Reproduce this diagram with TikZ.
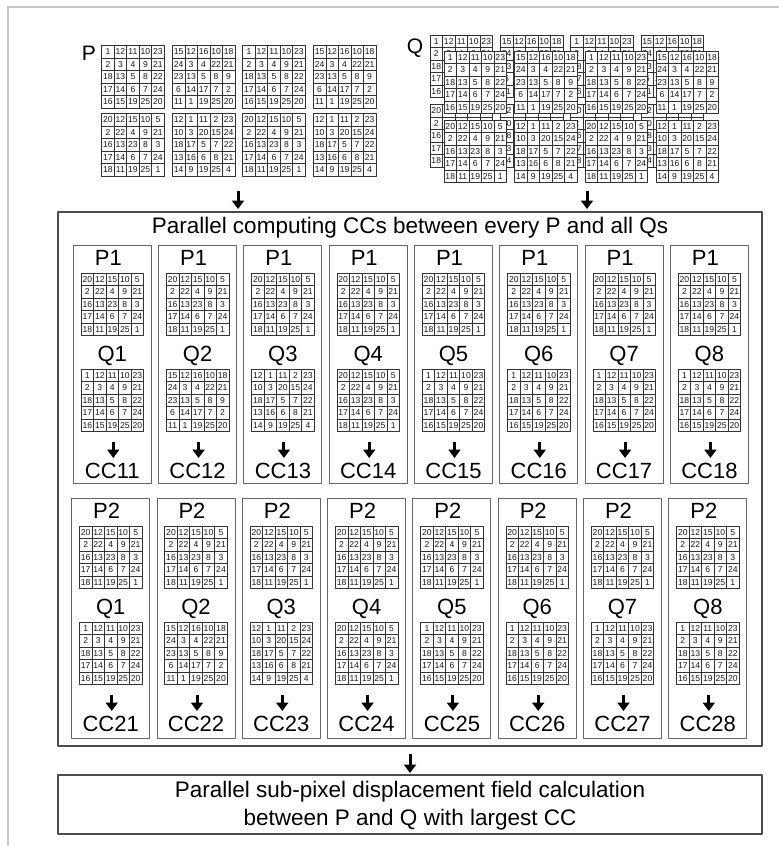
\documentclass[tikz,border=0pt]{standalone}
\usepackage{fontspec}
\setmainfont{Liberation Sans}
\usetikzlibrary{arrows.meta}

\def\matA{{20,12,15,10,5},{2,22,4,9,21},{16,13,23,8,3},{17,14,6,7,24},{18,11,19,25,1}}
\def\matB{{1,12,11,10,23},{2,3,4,9,21},{18,13,5,8,22},{17,14,6,7,24},{16,15,19,25,20}}
\def\matC{{15,12,16,10,18},{24,3,4,22,21},{23,13,5,8,9},{6,14,17,7,2},{11,1,19,25,20}}
\def\matD{{12,1,11,2,23},{10,3,20,15,24},{18,17,5,7,22},{13,16,6,8,21},{14,9,19,25,4}}

\newcommand{\numgrid}[4]{%
  \expandafter\let\expandafter\curmat\csname mat#4\endcsname
  \foreach \rowvals [count=\ri] in \curmat {%
    \foreach \v [count=\ci] in \rowvals {%
      \node[cell] (#1-\ri-\ci) at ({#2+(\ci-0.5)*12.5},{#3+(\ri-0.5)*12.5}) {\v};
    }
  }%
}

\begin{document}
\begin{tikzpicture}[x=1pt, y=-1pt, line join=round,
  cell/.style={draw=black!80, line width=0.6pt, fill=white, inner sep=0pt,
    minimum width=12.5pt, minimum height=12.5pt, text=black!90,
    font=\fontsize{8.6}{8.6}\selectfont},
  biglbl/.style={inner sep=0pt, font=\fontsize{21}{21}\selectfont},
  lbl/.style={inner sep=0pt, font=\fontsize{22}{22}\selectfont},
  txt/.style={inner sep=0pt, align=center, font=\fontsize{22.5}{28}\selectfont},
  colbox/.style={draw=black!60, line width=0.9pt},
  mainbox/.style={draw=black!70, line width=1.3pt},
  pageline/.style={draw=black!22, line width=2pt},
  arr/.style={line width=3pt, -{Triangle[width=12pt,length=8.5pt]}}]
\useasboundingbox (0,0) rectangle (779,846);
\draw[pageline] (7,7) -- (779,7);
\draw[pageline] (8,7) -- (8,846);

\node[biglbl] (Plbl) at (89,53) {P};
\foreach \gx/\qm [count=\j] in {101.7/B,172.3/C,242.7/B,313.3/C} {\numgrid{P-1-\j}{\gx}{45.5}{\qm}}
\foreach \gx/\qm [count=\j] in {101.7/A,172.3/D,242.7/A,313.3/D} {\numgrid{P-2-\j}{\gx}{113.5}{\qm}}

\node[biglbl] (Qlbl) at (415,48) {Q};
\foreach \gx/\qm [count=\j] in {430/B,500.3/C,570.6/B,640.9/C} {\numgrid{Qb-1-\j}{\gx}{35}{\qm}}
\foreach \gx/\qm [count=\j] in {430/A,500.3/D,570.6/A,640.9/D} {\numgrid{Qb-2-\j}{\gx}{104.5}{\qm}}
\foreach \gx/\qm [count=\j] in {444/B,514.6/C,585.2/B,655.8/C} {\numgrid{Qf-1-\j}{\gx}{51}{\qm}}
\foreach \gx/\qm [count=\j] in {444/A,514.6/D,585.2/A,655.8/D} {\numgrid{Qf-2-\j}{\gx}{120}{\qm}}

\coordinate (Ptop) at (238,191);
\coordinate (Pbot) at (238,209);
\coordinate (Qtop) at (587,191);
\coordinate (Qbot) at (587,209);
\draw[arr] (Ptop) -- (Pbot);
\draw[arr] (Qtop) -- (Qbot);

\draw[mainbox] (58,212) rectangle (762,746);
\node[txt] (title) at (410,228) {Parallel computing CCs between every P and all Qs};

\foreach \rw/\ty/\by/\xs in {1/245/483/73.3,2/498/738/71.7} {
  \foreach \nq/\qm in {1/B,2/C,3/D,4/A,5/B,6/B,7/B,8/B} {
    \pgfmathsetmacro\bx{\xs+85.3*(\nq-1)}
    \pgfmathsetmacro\cx{\bx+39}
    \pgfmathsetmacro\gx{\cx-31.25}
    \draw[colbox] (\bx,\ty) rectangle ({\bx+78},\by);
    \node[lbl] (p-\rw-\nq) at ({\cx-4},{\ty+12.5}) {P\rw};
    \numgrid{cp-\rw-\nq}{\gx}{\ty+28}{A}
    \node[lbl] (q-\rw-\nq) at (\cx,{\ty+111}) {Q\nq};
    \numgrid{cq-\rw-\nq}{\gx}{\ty+124}{\qm}
    \coordinate (s-\rw-\nq) at ({\cx+1},{\ty+197});
    \coordinate (e-\rw-\nq) at ({\cx+1},{\ty+213});
    \draw[arr] (s-\rw-\nq) -- (e-\rw-\nq);
    \node[lbl] (cc-\rw-\nq) at (\cx,{\ty+225.5}) {CC\rw\nq};
  }
}

\coordinate (Mtop) at (410,754);
\coordinate (Mbot) at (410,773);
\draw[arr] (Mtop) -- (Mbot);
\draw[mainbox] (58,775) rectangle (762,834);
\node[txt] (result) at (410,806) {Parallel sub-pixel displacement field calculation\\between P and Q with largest CC};
\end{tikzpicture}
\end{document}
